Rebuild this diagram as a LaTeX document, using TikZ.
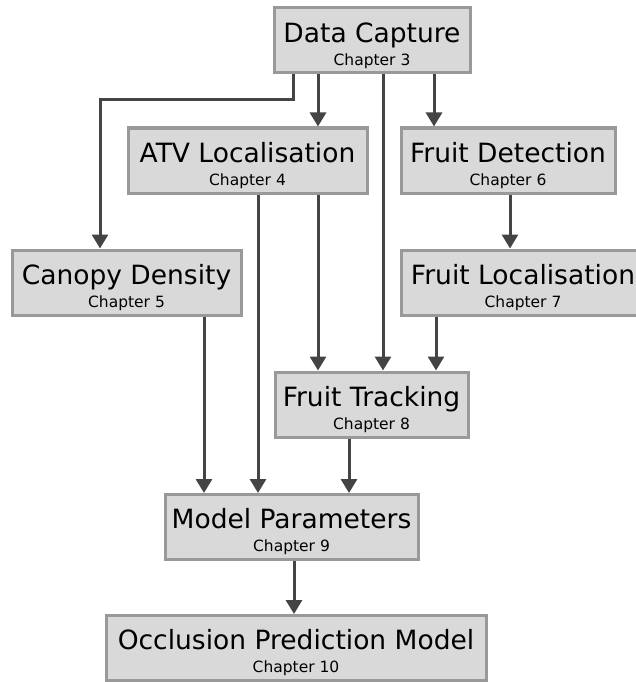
\documentclass[tikz,border=0pt]{standalone}
\usepackage{fontspec}
\setmainfont{DejaVu Sans}
\usetikzlibrary{arrows.meta}
\definecolor{boxfill}{HTML}{D9D9D9}
\definecolor{boxline}{HTML}{999999}
\definecolor{arrline}{HTML}{444444}
\newcommand{\chap}[2]{\rule{0pt}{30pt}#1\\[-4pt]{\fontsize{15.5}{18}\selectfont #2}}

\begin{document}
\begin{tikzpicture}[x=1pt,y=-1pt,
		box/.style={draw=boxline,fill=boxfill,line width=3pt,rectangle,inner sep=0pt,
			minimum height=65pt,align=center,font=\fontsize{26.5}{27}\selectfont},
		arr/.style={draw=arrline,line width=3pt,-{Triangle[width=16pt,length=14pt]}}]
		\useasboundingbox (0,0) rectangle (636,682);
		\clip (0,0) rectangle (636,682);
		% boxes
		\node[box,minimum width=196pt] (dc) at (372,40.5) {\chap{Data Capture}{Chapter 3}};
		\node[box,minimum width=239pt] (atv) at (247.5,160.5) {\chap{ATV Localisation}{Chapter 4}};
		\node[box,minimum width=214pt] (fd) at (508,160.5) {\chap{Fruit Detection}{Chapter 6}};
		\node[box,minimum width=229pt] (cd) at (126.5,282.5) {\chap{Canopy Density}{Chapter 5}};
		\node[box,minimum width=244pt] (fl) at (523,282.5) {\chap{Fruit Localisation}{Chapter 7}};
		\node[box,minimum width=193pt] (ft) at (371.5,404.5) {\chap{Fruit Tracking}{Chapter 8}};
		\node[box,minimum width=253pt] (mp) at (291.5,527) {\chap{Model Parameters}{Chapter 9}};
		\node[box,minimum width=380pt] (opm) at (296,648) {\chap{Occlusion Prediction Model}{Chapter 10}};
		% arrows
		\draw[arr] (dc.south -| 293,0) -- (293,100) -| (cd.north -| 100,0);
		\draw[arr] (dc.south -| 318,0) -- (atv.north -| 318,0);
		\draw[arr] (dc.south -| 383,0) -- (ft.north -| 383,0);
		\draw[arr] (dc.south -| 434,0) -- (fd.north -| 434,0);
		\draw[arr] (fd.south -| 510,0) -- (fl.north -| 510,0);
		\draw[arr] (atv.south -| 258,0) -- (mp.north -| 258,0);
		\draw[arr] (atv.south -| 318,0) -- (ft.north -| 318,0);
		\draw[arr] (fl.south -| 436,0) -- (ft.north -| 436,0);
		\draw[arr] (cd.south -| 204,0) -- (mp.north -| 204,0);
		\draw[arr] (ft.south -| 349,0) -- (mp.north -| 349,0);
		\draw[arr] (mp.south -| 294,0) -- (opm.north -| 294,0);
\end{tikzpicture}
\end{document}
